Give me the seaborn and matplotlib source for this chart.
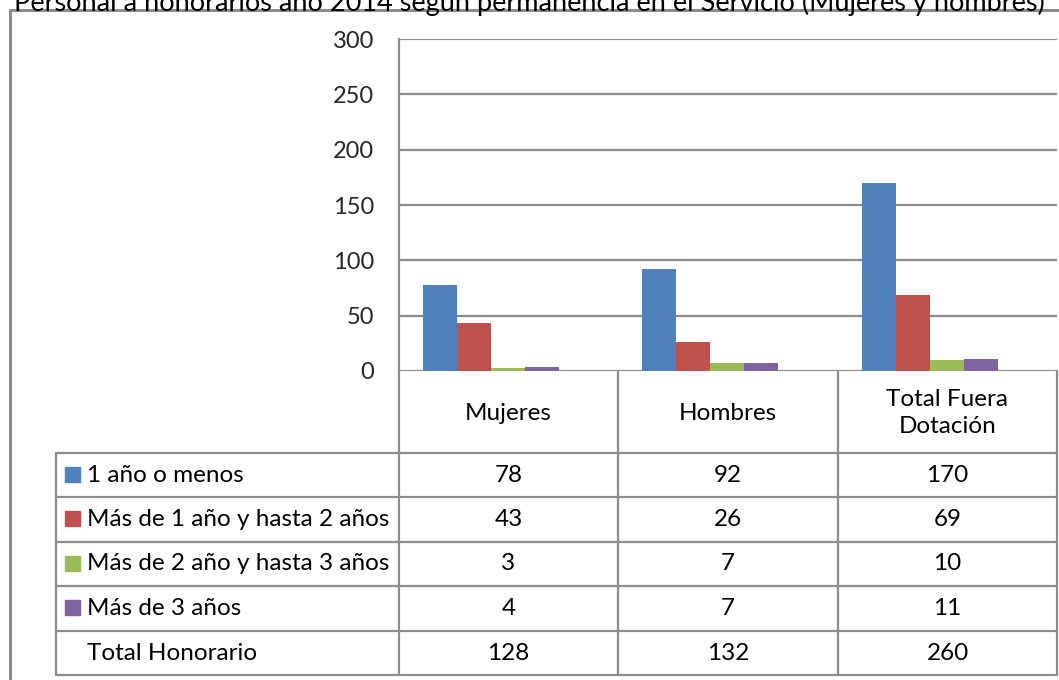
import matplotlib
matplotlib.use("Agg")
import matplotlib.pyplot as plt
import pandas as pd
import seaborn as sns
from matplotlib.patches import Rectangle

# ---- data ----
categories = ["Mujeres", "Hombres", "Total Fuera\nDotación"]
series = [
    "1 año o menos",
    "Más de 1 año y hasta 2 años",
    "Más de 2 año y hasta 3 años",
    "Más de 3 años",
]
values_1 = [78, 92, 170]
values_2 = [43, 26, 69]
values_3 = [3, 7, 10]
values_4 = [4, 7, 11]
totals = [128, 132, 260]
total_label = "Total Honorario"
y_ticks = [0, 50, 100, 150, 200, 250, 300]
title = "Personal a honorarios año 2014 según permanencia en el Servicio (Mujeres y hombres)"

colors = ["#4F81BD", "#C0504D", "#9BBB59", "#8064A2"]
GRID = "#8c8c8c"
FONT = ["Lato", "DejaVu Sans"]

W, H = 1059, 680

rows = []
for s, vals in zip(series, [values_1, values_2, values_3, values_4]):
    for c, v in zip(categories, vals):
        rows.append({"cat": c, "serie": s, "value": v})
df = pd.DataFrame(rows)

sns.set_theme(style="white")
plt.rcParams["font.family"] = FONT

fig = plt.figure(figsize=(W / 100, H / 100), dpi=100)

# plot area in pixel units
px_l, px_r, px_t, px_b = 399, 1057, 39, 371
ax = fig.add_axes([px_l / W, 1 - px_b / H, (px_r - px_l) / W, (px_b - px_t) / H])
sns.barplot(data=df, x="cat", y="value", hue="serie", order=categories,
            hue_order=series, palette=colors, width=0.62, ax=ax,
            legend=False, saturation=1, linewidth=0)
ax.set_xlim(-0.42, 2.58)
ax.set_ylim(0, 300)
ax.set_yticks(y_ticks)
ax.set_yticklabels([str(t) for t in y_ticks], fontsize=17)
ax.tick_params(axis="y", length=0, pad=18)
ax.set_xticks([])
ax.set_xlabel("")
ax.set_ylabel("")
for t in y_ticks:
    ax.axhline(t, color=GRID, lw=1.6, zorder=0)
for side in ["top", "right", "bottom"]:
    ax.spines[side].set_visible(False)
ax.spines["left"].set_color(GRID)
ax.spines["left"].set_linewidth(1.6)

# overlay in pixel coordinates for the data table and frame
ov = fig.add_axes([0, 0, 1, 1], zorder=-1)
ov.set_xlim(0, W)
ov.set_ylim(H, 0)
ov.axis("off")
ov.patch.set_alpha(0)

# outer chart border
ov.plot([10, 10], [10, H + 5], color=GRID, lw=2.2)
ov.plot([10, W + 5], [10, 10], color=GRID, lw=2.2)

col_x = [399, 618, 838, 1057]
label_x0 = 56
row_y = [371, 453, 497, 542, 586, 631, 675]

for y in row_y[1:]:
    ov.plot([label_x0, col_x[-1]], [y, y], color=GRID, lw=1.6)
for x in col_x:
    ov.plot([x, x], [row_y[0], row_y[-1]], color=GRID, lw=1.6)
ov.plot([label_x0, label_x0], [row_y[1], row_y[-1]], color=GRID, lw=1.6)

fs = 17.5
# header row
for i, c in enumerate(categories):
    cx = (col_x[i] + col_x[i + 1]) / 2
    ov.text(cx, (row_y[0] + row_y[1]) / 2 + 1, c, ha="center", va="center",
            fontsize=fs, linespacing=1.3, color="black")

# body rows
body = [values_1, values_2, values_3, values_4, totals]
labels = series + [total_label]
for r, (lab, vals) in enumerate(zip(labels, body)):
    yc = (row_y[r + 1] + row_y[r + 2]) / 2
    if r < len(colors):
        ov.add_patch(Rectangle((65, yc - 8.5), 15, 15, color=colors[r]))
    ov.text(87, yc, lab, ha="left", va="center", fontsize=fs, color="black")
    for i, v in enumerate(vals):
        cx = (col_x[i] + col_x[i + 1]) / 2
        ov.text(cx, yc, str(v), ha="center", va="center", fontsize=fs, color="black")

# title, clipped at the top edge as in the source
fig.text(0.5, 1 - 3 / H, title, ha="center", va="center", fontsize=19.5,
         color="black")

fig.savefig("out.png", dpi=100)
